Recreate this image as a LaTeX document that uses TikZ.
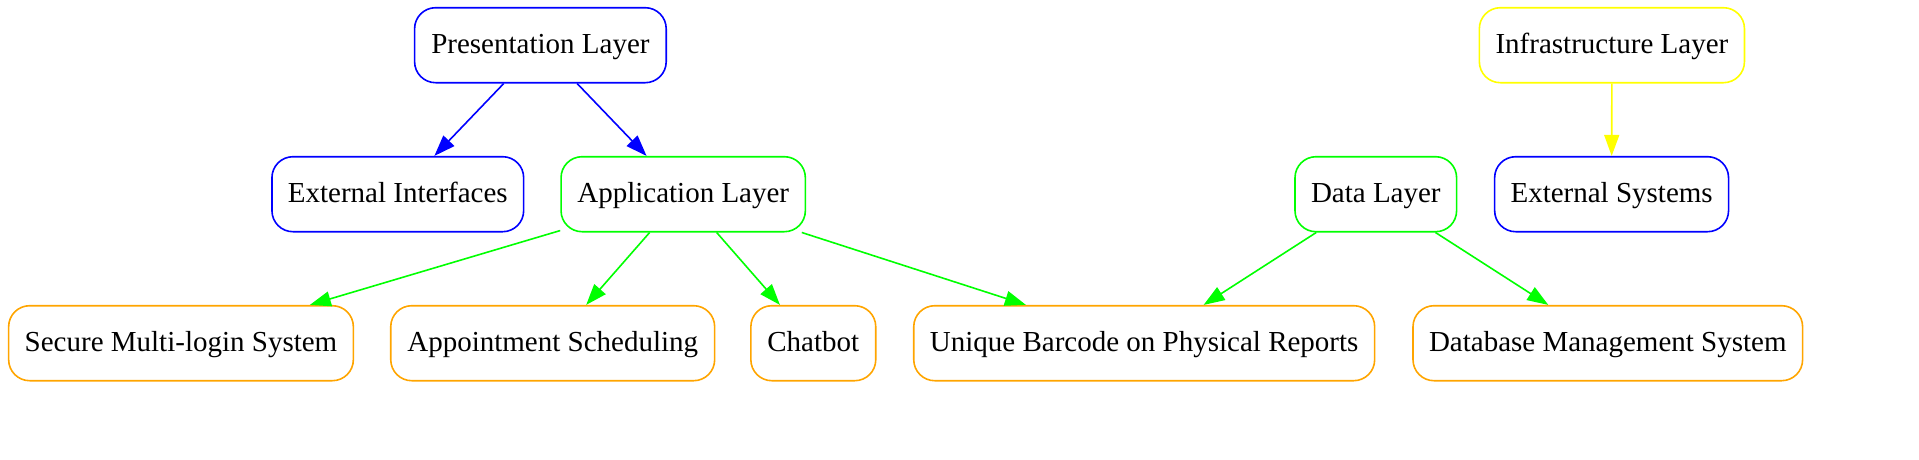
\documentclass[tikz,border=0pt]{standalone}
\usepackage{fontspec}
\setmainfont{Liberation Serif}
\usetikzlibrary{arrows.meta}
\definecolor{gvblue}{RGB}{0,0,255}
\definecolor{gvgreen}{RGB}{0,255,0}
\definecolor{gvorange}{RGB}{255,165,0}
\definecolor{gvyellow}{RGB}{255,255,0}
\begin{document}
\begin{tikzpicture}[x=1pt,y=-1pt,
  box/.style={draw, rectangle, rounded corners=21pt, line width=1.6pt,
    minimum height=75pt, inner sep=0pt, text=black,
    text height=22pt, text depth=6pt,
    font=\fontsize{29}{34}\selectfont},
  conn/.style={line width=1.6pt, -{Triangle[length=21pt,width=15pt]}}
]
\useasboundingbox (0,0) rectangle (1919,459);
% top row
\node[box, draw=gvblue, minimum width=251.6pt] (pres) at (540.4,45.2) {Presentation Layer};
\node[box, draw=gvyellow, minimum width=265.1pt] (infra) at (1611.9,45.2) {Infrastructure Layer};
% middle row
\node[box, draw=gvblue, minimum width=251.7pt] (extif) at (397.8,194.2) {External Interfaces};
\node[box, draw=gvgreen, minimum width=244.3pt] (app) at (683.2,194.2) {Application Layer};
\node[box, draw=gvgreen, minimum width=161.6pt] (data) at (1375.8,194.2) {Data Layer};
\node[box, draw=gvblue, minimum width=233.9pt] (extsys) at (1611.6,194.2) {External Systems};
% bottom row
\node[box, draw=gvorange, minimum width=344.7pt] (secure) at (181,343.2) {Secure Multi-login System};
\node[box, draw=gvorange, minimum width=323.9pt] (appt) at (552.7,343.2) {Appointment Scheduling};
\node[box, draw=gvorange, minimum width=124.9pt] (chat) at (813.3,343.2) {Chatbot};
\node[box, draw=gvorange, minimum width=460.9pt] (barcode) at (1144.2,343.2) {Unique Barcode on Physical Reports};
\node[box, draw=gvorange, minimum width=389.6pt] (dbms) at (1607.8,343.2) {Database Management System};
% connectors
\draw[conn, gvblue] (pres) -- (extif);
\draw[conn, gvblue] (pres) -- (app);
\draw[conn, gvyellow] (infra) -- (extsys);
\draw[conn, gvgreen] (app) -- (secure);
\draw[conn, gvgreen] (app) -- (appt);
\draw[conn, gvgreen] (app) -- (chat);
\draw[conn, gvgreen] (app) -- (barcode);
\draw[conn, gvgreen] (data) -- (barcode);
\draw[conn, gvgreen] (data) -- (dbms);
\end{tikzpicture}
\end{document}
